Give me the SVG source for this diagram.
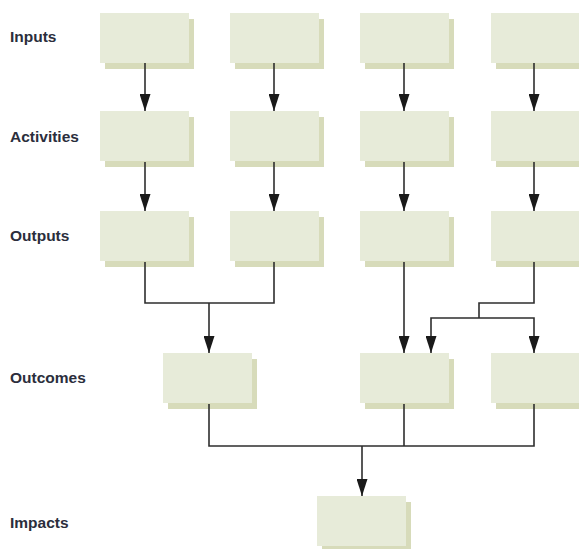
<svg xmlns="http://www.w3.org/2000/svg" width="579" height="549" viewBox="0 0 579 549">
<style>
  .lbl { font-family: "Liberation Sans", Arial, sans-serif; font-weight: bold; font-size: 15.5px; fill: #2b2e3c; }
  .shadow { fill: #d7dbba; }
  .box { fill: #e7ebd9; }
  .conn { fill: none; stroke: #2e2e2e; stroke-width: 1.6; }
  .arrow { marker-end: url(#ah); }
</style>
<defs>
  <marker id="ah" viewBox="0 0 17 11" refX="17" refY="5.5" markerWidth="17" markerHeight="11" markerUnits="userSpaceOnUse" orient="auto">
    <path d="M0,0 L17,5.5 L0,11 z" fill="#1a1a1a"/>
  </marker>
  <g id="node">
    <rect class="shadow" x="5" y="6" width="89" height="50"/>
    <rect class="box" x="0" y="0" width="89" height="50"/>
  </g>
</defs>
<rect width="579" height="549" fill="#ffffff"/>

<g id="labels">
  <text class="lbl" x="10" y="42">Inputs</text>
  <text class="lbl" x="10" y="142">Activities</text>
  <text class="lbl" x="10" y="241">Outputs</text>
  <text class="lbl" x="10" y="383">Outcomes</text>
  <text class="lbl" x="10" y="528">Impacts</text>
</g>

<g id="input1"><use href="#node" x="100" y="13"/></g>
<g id="input2"><use href="#node" x="230" y="13"/></g>
<g id="input3"><use href="#node" x="360" y="13"/></g>
<g id="input4"><use href="#node" x="491" y="13"/></g>

<g id="activity1"><use href="#node" x="100" y="111"/></g>
<g id="activity2"><use href="#node" x="230" y="111"/></g>
<g id="activity3"><use href="#node" x="360" y="111"/></g>
<g id="activity4"><use href="#node" x="491" y="111"/></g>

<g id="output1"><use href="#node" x="100" y="211"/></g>
<g id="output2"><use href="#node" x="230" y="211"/></g>
<g id="output3"><use href="#node" x="360" y="211"/></g>
<g id="output4"><use href="#node" x="491" y="211"/></g>

<g id="outcome1"><use href="#node" x="163" y="353"/></g>
<g id="outcome2"><use href="#node" x="360" y="353"/></g>
<g id="outcome3"><use href="#node" x="491" y="353"/></g>

<g id="impact1"><use href="#node" x="317" y="496"/></g>

<g id="connectors">
  <path class="conn arrow" d="M145,63 V111"/>
  <path class="conn arrow" d="M274,63 V111"/>
  <path class="conn arrow" d="M404,63 V111"/>
  <path class="conn arrow" d="M534,63 V111"/>

  <path class="conn arrow" d="M145,162 V211"/>
  <path class="conn arrow" d="M274,162 V211"/>
  <path class="conn arrow" d="M404,162 V211"/>
  <path class="conn arrow" d="M534,162 V211"/>

  <path class="conn" d="M145,262 V303 H274 V262"/>
  <path class="conn arrow" d="M209,303 V353"/>

  <path class="conn arrow" d="M404,262 V353"/>

  <path class="conn" d="M534,262 V303 H479 V318"/>
  <path class="conn arrow" d="M479,318 H431 V353"/>
  <path class="conn arrow" d="M479,318 H534 V353"/>

  <path class="conn" d="M209,404 V446 H534 V404"/>
  <path class="conn" d="M404,404 V446"/>
  <path class="conn arrow" d="M362,446 V496"/>
</g>
</svg>
